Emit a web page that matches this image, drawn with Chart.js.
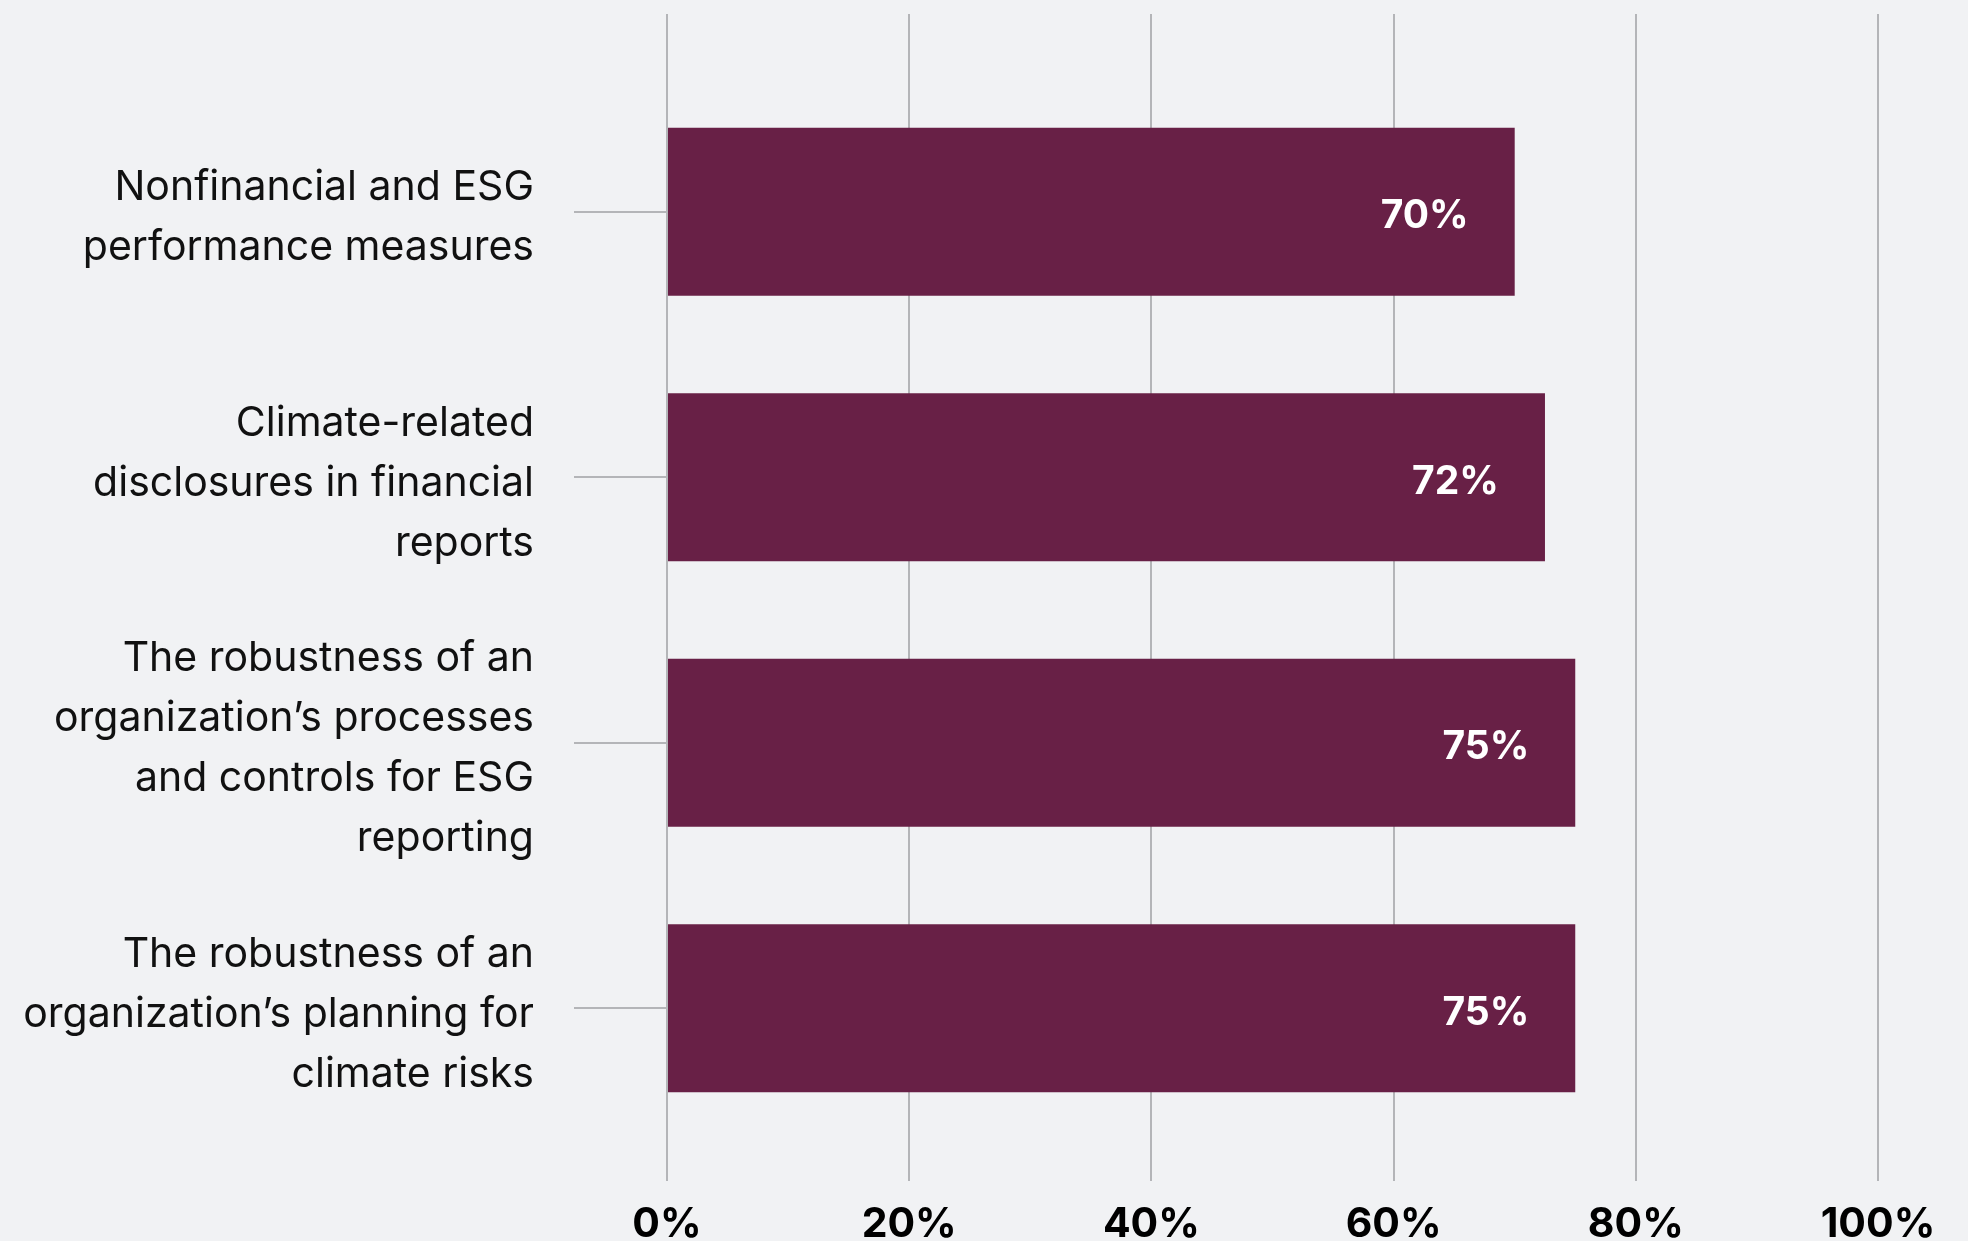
<!DOCTYPE html>
<html><head><meta charset="utf-8">
<script src="https://cdn.jsdelivr.net/npm/chart.js@4.4.0/dist/chart.umd.min.js"></script>
<style>html,body{margin:0;padding:0;background:#f1f2f4;} #wrap{width:1968px;height:1241px;position:relative}</style>
</head><body><div id="wrap"><canvas id="c"></canvas></div>
<script>
const categories = [
  ['Nonfinancial and ESG', 'performance measures'],
  ['Climate-related', 'disclosures in financial', 'reports'],
  ['The robustness of an', 'organization\u2019s processes', 'and controls for ESG', 'reporting'],
  ['The robustness of an', 'organization\u2019s planning for', 'climate risks']
];
const values = [70, 72.5, 75, 75];
const valueLabels = ['70%', '72%', '75%', '75%'];
const axisMin = 0, axisMax = 100, axisStep = 20;

const gridColor = '#b4b5b8';
const FONT = 'Inter';

const barLabels = {
  id: 'barLabels',
  afterDatasetsDraw(chart) {
    const ctx = chart.ctx;
    const meta = chart.getDatasetMeta(0);
    ctx.save();
    ctx.font = 'bold 39px ' + FONT;
    ctx.fillStyle = '#ffffff';
    ctx.textAlign = 'right';
    ctx.textBaseline = 'middle';
    meta.data.forEach((bar, i) => {
      ctx.fillText(valueLabels[i], bar.x - 46, bar.y + 5);
    });
    ctx.restore();
  }
};

new Chart(document.getElementById('c'), {
  type: 'bar',
  data: {
    labels: categories,
    datasets: [{
      data: values,
      backgroundColor: '#682046',
      borderWidth: 0,
      categoryPercentage: 1,
      barPercentage: 0.633
    }]
  },
  options: {
    indexAxis: 'y',
    responsive: true,
    maintainAspectRatio: false,
    devicePixelRatio: 1,
    animation: false,
    layout: { padding: { top: 14, right: 90, bottom: 0, left: 0 } },
    plugins: { legend: { display: false }, tooltip: { enabled: false } },
    scales: {
      x: {
        type: 'linear', position: 'bottom', min: axisMin, max: axisMax,
        ticks: { stepSize: axisStep, callback: v => v + '%', color: '#000',
          font: { family: FONT, weight: 'bold', size: 41, lineHeight: 1 }, padding: 23 },
        grid: { color: gridColor, lineWidth: 2, tickLength: 40, drawTicks: true },
        border: { display: false },
        afterFit(s) { s.height = 100; }
      },
      x2: {
        type: 'linear', position: 'top', min: axisMin, max: axisMax,
        ticks: { display: false, stepSize: axisStep },
        grid: { color: gridColor, lineWidth: 2, tickLength: 65, drawOnChartArea: false },
        border: { display: false }
      },
      y: {
        type: 'category', offset: true,
        grid: { offset: false, drawOnChartArea: false, tickLength: 93, color: gridColor, lineWidth: 2 },
        border: { display: false },
        ticks: { color: '#111', font: { family: FONT, size: 41, lineHeight: '60px' }, padding: 40, labelOffset: 6 },
        afterFit(s) { s.width = 667; s.paddingTop = 0; s.paddingBottom = 0; }
      }
    }
  },
  plugins: [barLabels]
});
</script>
</body></html>
